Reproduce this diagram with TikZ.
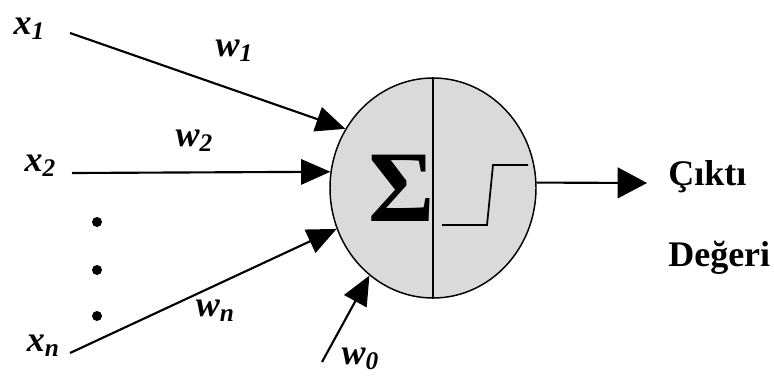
\documentclass[tikz,border=0pt]{standalone}
\usepackage{fontspec}
\setmainfont{Liberation Serif}
\usetikzlibrary{arrows.meta,shapes.geometric}
% input/weight label: bold italic letter with a lowered index
\newcommand\inlab[2]{#1\raisebox{-0.3ex}{\fontsize{19}{19}\selectfont #2}}

\begin{document}
\begin{tikzpicture}[x=0.75pt,y=-0.75pt,
  wire/.style={line width=1.6pt,-{Triangle[length=22pt,width=19pt]}},
  lab/.style={font=\fontsize{27}{27}\selectfont\bfseries\itshape,inner sep=0pt},
  outlab/.style={font=\fontsize{27}{27}\selectfont\bfseries,inner sep=0pt,anchor=base west},
  dotmark/.style={circle,fill=black,inner sep=0pt,minimum size=7.5pt}]
\useasboundingbox (0,0) rectangle (774,379);

% neuron body
\node[ellipse,draw,line width=1.1pt,fill={rgb,255:red,218;green,218;blue,218},
      minimum width=154.5pt,minimum height=165pt,inner sep=0pt] (neuron) at (433,188) {};
\draw[line width=1pt] (neuron.north) -- (neuron.south);
\node[font=\fontsize{76}{76}\selectfont\bfseries,inner sep=0pt] (sum) at (402,188) {Σ};
% step activation
\coordinate (s1) at (442,225);
\coordinate (s2) at (487,225);
\coordinate (s3) at (493,165);
\coordinate (s4) at (528,165);
\draw[line width=1.3pt] (s1) -- (s2) -- (s3) -- (s4);

% inputs
\node[lab] (x1) at (29,29) {\inlab{x}{1}};
\node[lab] (x2) at (40,166) {\inlab{x}{2}};
\node[lab] (xn) at (43,346) {\inlab{x}{n}};
\coordinate (a1) at (70,33);
\coordinate (a2) at (72,173);
\coordinate (an) at (70,353);
\coordinate (a0) at (322,362);
\draw[wire] (a1) -- (neuron.146);
\draw[wire] (a2) -- (neuron.171);
\draw[wire] (an) -- (neuron.203);
\draw[wire] (a0) -- (neuron.234);

% weights
\node[lab] (w1) at (234,51) {\inlab{w}{1}};
\node[lab] (w2) at (194,141) {\inlab{w}{2}};
\node[lab] (wn) at (215,311) {\inlab{w}{n}};
\node[lab] (w0) at (360,359) {\inlab{w}{0}};

% ellipsis dots
\node[dotmark] (d1) at (97,222) {};
\node[dotmark] (d2) at (97,270) {};
\node[dotmark] (d3) at (97,316) {};

% output
\coordinate (o) at (647,183);
\draw[wire,-{Triangle[length=22pt,width=23pt]}] (neuron.3) -- (o);
\node[outlab] (cikti) at (668,185) {Çıktı};
\node[outlab] (degeri) at (668,266) {Değeri};
\end{tikzpicture}
\end{document}
